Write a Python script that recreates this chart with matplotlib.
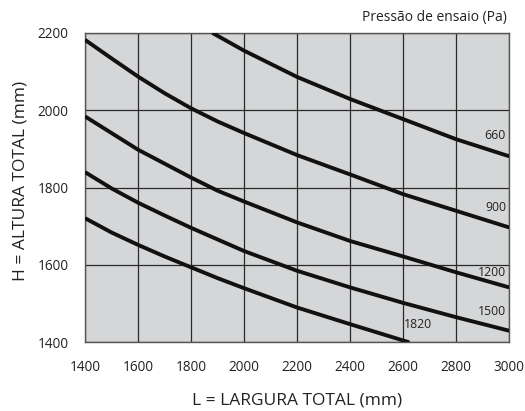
import matplotlib
matplotlib.use('Agg')
import matplotlib.pyplot as plt
import matplotlib.ticker as ticker

plt.rcParams['font.family'] = ['Open Sans', 'DejaVu Sans']

# largura (mm) e altura máxima (mm) para cada pressão de ensaio
x_full = [1400, 1500, 1600, 1700, 1800, 1900, 2000, 2200, 2400, 2600, 2800, 3000]
x_660 = [1880, 2000, 2200, 2400, 2600, 2800, 3000]
h_660 = [2200, 2154, 2086, 2029, 1977, 1925, 1881]
h_900 = [2182, 2134, 2087, 2044, 2005, 1971, 1941, 1884, 1834, 1783, 1740, 1697]
h_1200 = [1984, 1941, 1898, 1862, 1826, 1792, 1764, 1710, 1662, 1622, 1581, 1542]
h_1500 = [1840, 1798, 1761, 1728, 1696, 1666, 1636, 1585, 1542, 1502, 1465, 1430]
x_1820 = [1400, 1500, 1600, 1700, 1800, 1900, 2000, 2200, 2400, 2623]
h_1820 = [1721, 1684, 1652, 1622, 1594, 1566, 1540, 1490, 1447, 1400]

series = [
    ('660', x_660, h_660, 2985, 1935),
    ('900', x_full, h_900, 2989, 1748),
    ('1200', x_full, h_1200, 2989, 1580),
    ('1500', x_full, h_1500, 2989, 1480),
    ('1820', x_1820, h_1820, 2604, 1446),
]

fig = plt.figure(figsize=(5.25, 4.11), dpi=100)
ax = fig.add_axes([0.162, 0.167, 0.808, 0.753])
ax.set_facecolor('#d5d6d8')

for name, xs, hs, lx, ly in series:
    ax.plot(xs, hs, color='#111111', linewidth=2.8, solid_capstyle='butt',
            solid_joinstyle='round', zorder=3)
    ha = 'left' if name == '1820' else 'right'
    ax.text(lx, ly, name, ha=ha, va='center', fontsize=8.8, color='#222222', zorder=4)

ax.set_xlim(1400, 3000)
ax.set_ylim(1400, 2200)
ax.xaxis.set_major_locator(ticker.MultipleLocator(200))
ax.yaxis.set_major_locator(ticker.MultipleLocator(200))
ax.grid(True, color='#2a2a2a', linewidth=0.9)
ax.set_axisbelow(True)
ax.tick_params(length=0, labelsize=9.8, colors='#222222')
ax.tick_params(axis='x', pad=13)
ax.tick_params(axis='y', pad=12)
for s in ax.spines.values():
    s.set_color('#555555')
    s.set_linewidth(1.0)

fig.text(297 / 525, 1 - 400 / 411, 'L = LARGURA TOTAL (mm)', ha='center', va='center',
         fontsize=12.5, color='#222222')
fig.text(21 / 525, 1 - 181 / 411, 'H = ALTURA TOTAL (mm)', ha='center', va='center',
         rotation=90, fontsize=12.5, color='#222222')
fig.text(0.966, 0.958, 'Pressão de ensaio (Pa)', ha='right', va='center',
         fontsize=10, color='#222222')

plt.savefig('out.png', dpi=100)
